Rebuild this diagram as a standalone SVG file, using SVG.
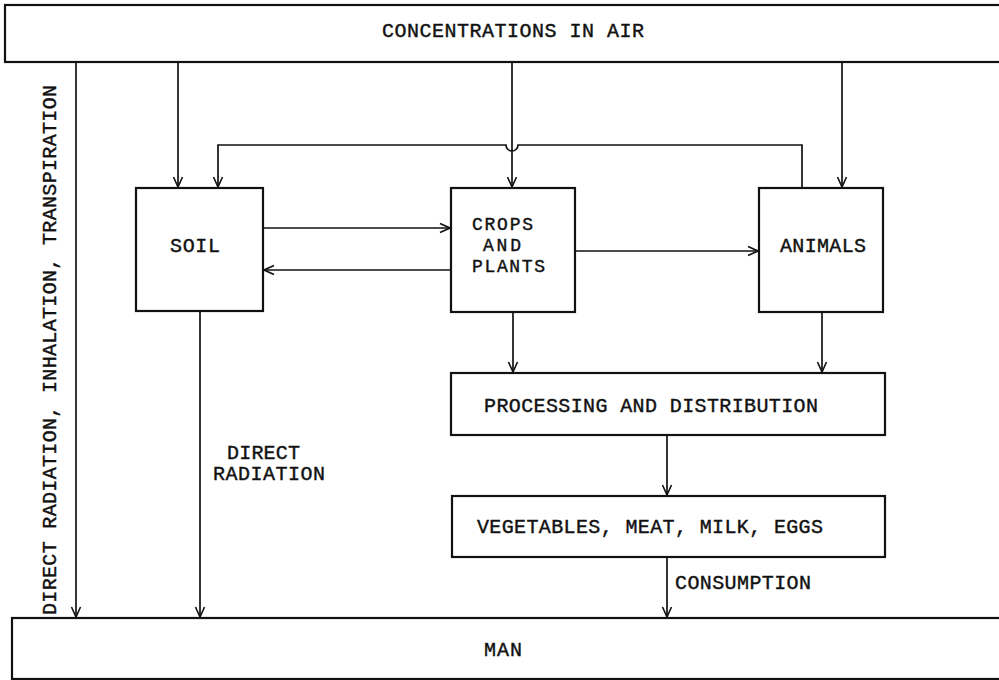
<svg xmlns="http://www.w3.org/2000/svg" width="999" height="680" viewBox="0 0 999 680">
<style>
.box{fill:#fff;stroke:#111;stroke-width:2.2}
.ln{fill:none;stroke:#111;stroke-width:1.7}
text{font-family:"Liberation Mono","Courier New",monospace;font-size:20px;fill:#111;stroke:#111;stroke-width:0.4}
.sm{font-size:18px}
</style>
<defs>
<marker id="ah" viewBox="0 0 12 12" refX="11" refY="6" markerWidth="12" markerHeight="12" markerUnits="userSpaceOnUse" orient="auto">
<path d="M1,1.5 L11,6 L1,10.5" fill="none" stroke="#111" stroke-width="1.6"/>
</marker>
</defs>
<rect width="999" height="680" fill="#fff"/>
<g id="air"><rect class="box" x="5" y="5" width="1000" height="57"/><text x="382" y="37" textLength="262" lengthAdjust="spacing">CONCENTRATIONS IN AIR</text></g>
<g id="soil"><rect class="box" x="136" y="188" width="127" height="123"/><text x="170" y="252" textLength="50" lengthAdjust="spacing">SOIL</text></g>
<g id="crops"><rect class="box" x="451" y="188" width="124" height="124"/><text class="sm" x="472" y="230" textLength="61" lengthAdjust="spacing">CROPS</text><text class="sm" x="483" y="251" textLength="38" lengthAdjust="spacing">AND</text><text class="sm" x="472" y="272" textLength="73" lengthAdjust="spacing">PLANTS</text></g>
<g id="animals"><rect class="box" x="759" y="188" width="124" height="124"/><text x="780" y="252" textLength="86" lengthAdjust="spacing">ANIMALS</text></g>
<g id="processing"><rect class="box" x="451" y="373" width="434" height="62"/><text x="484" y="412" textLength="334" lengthAdjust="spacing">PROCESSING AND DISTRIBUTION</text></g>
<g id="food"><rect class="box" x="452" y="496" width="433" height="61"/><text x="477" y="533" textLength="346" lengthAdjust="spacing">VEGETABLES, MEAT, MILK, EGGS</text></g>
<g id="man"><rect class="box" x="12" y="618" width="1000" height="61"/><text x="484" y="656" textLength="38" lengthAdjust="spacing">MAN</text></g>
<g id="labels">
<text transform="translate(56,615) rotate(-90)" textLength="530" lengthAdjust="spacing">DIRECT RADIATION, INHALATION, TRANSPIRATION</text>
<text x="227" y="459" textLength="73" lengthAdjust="spacing">DIRECT</text>
<text x="213" y="480" textLength="112" lengthAdjust="spacing">RADIATION</text>
<text x="675" y="589" textLength="136" lengthAdjust="spacing">CONSUMPTION</text>
</g>
<g id="connectors">
<path class="ln" d="M76,62 V617" marker-end="url(#ah)"/>
<path class="ln" d="M178,62 V187" marker-end="url(#ah)"/>
<path class="ln" d="M512,62 V187" marker-end="url(#ah)"/>
<path class="ln" d="M842,62 V187" marker-end="url(#ah)"/>
<path class="ln" d="M802,188 V145 H518 A6,6 0 0 1 506,145 H218 V187" marker-end="url(#ah)"/>
<path class="ln" d="M263,228 H450" marker-end="url(#ah)"/>
<path class="ln" d="M451,270 H264" marker-end="url(#ah)"/>
<path class="ln" d="M575,251 H758" marker-end="url(#ah)"/>
<path class="ln" d="M513,312 V372" marker-end="url(#ah)"/>
<path class="ln" d="M822,312 V372" marker-end="url(#ah)"/>
<path class="ln" d="M200,311 V617" marker-end="url(#ah)"/>
<path class="ln" d="M667,435 V495" marker-end="url(#ah)"/>
<path class="ln" d="M667,557 V617" marker-end="url(#ah)"/>
</g>
</svg>
